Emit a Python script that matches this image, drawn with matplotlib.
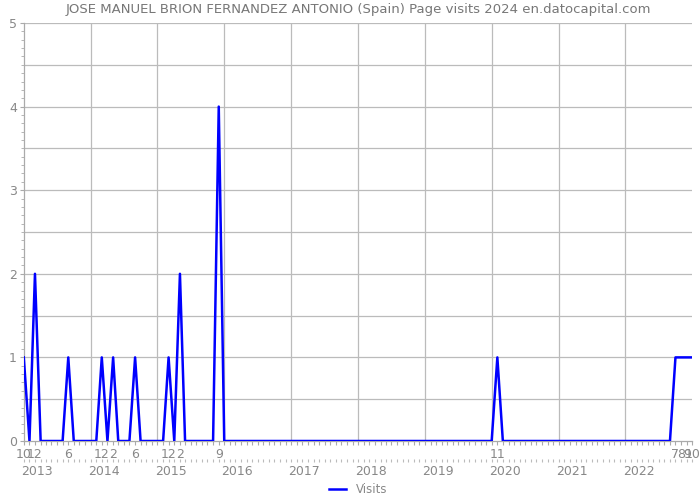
import numpy as np
import pandas as pd
import matplotlib
matplotlib.use("Agg")
import matplotlib.pyplot as plt
import matplotlib.dates as mdates
from matplotlib.ticker import MultipleLocator, FixedLocator

# monthly page visits, Oct 2012 .. Oct 2022
start_month = "2012-10-01"
visits = [1, 0, 2, 0, 0, 0, 0, 0, 1, 0, 0, 0,
          0, 0, 1, 0, 1, 0, 0, 0, 1, 0, 0, 0,
          0, 0, 1, 0, 2, 0, 0, 0, 0, 0, 0, 4,
          0, 0, 0, 0, 0, 0, 0, 0, 0, 0, 0, 0,
          0, 0, 0, 0, 0, 0, 0, 0, 0, 0, 0, 0,
          0, 0, 0, 0, 0, 0, 0, 0, 0, 0, 0, 0,
          0, 0, 0, 0, 0, 0, 0, 0, 0, 0, 0, 0,
          0, 1, 0, 0, 0, 0, 0, 0, 0, 0, 0, 0,
          0, 0, 0, 0, 0, 0, 0, 0, 0, 0, 0, 0,
          0, 0, 0, 0, 0, 0, 0, 0, 0, 1, 1, 1,
          1]
years = [2013, 2014, 2015, 2016, 2017, 2018, 2019, 2020, 2021, 2022]
title = "JOSE MANUEL BRION FERNANDEZ ANTONIO (Spain) Page visits 2024 en.datocapital.com"

months = pd.date_range(start_month, periods=len(visits), freq="MS")
visits = np.array(visits)

txt = "#888888"
grid = "#bbbbbb"

fig = plt.figure(figsize=(7, 5), dpi=100)
ax = fig.add_axes([0.034, 0.118, 0.955, 0.836])

ax.plot(months, visits, color="#0000ff", linewidth=1.8, label="Visits", zorder=3)

ax.set_xlim(months[0], months[-1])
ax.set_ylim(0, 5)

# month labels under the months that had visits
hit = visits > 0
ax.xaxis.set_major_locator(FixedLocator(mdates.date2num(months[hit])))
ax.set_xticklabels([str(m.month) for m in months[hit]])
ax.xaxis.set_minor_locator(FixedLocator(mdates.date2num(months)))
ax.tick_params(axis="x", which="both", length=3, color="#aaaaaa", labelcolor=txt,
               labelsize=9, pad=2, width=0.8)

ax.yaxis.set_major_locator(MultipleLocator(1))
ax.yaxis.set_minor_locator(MultipleLocator(0.1))
ax.tick_params(axis="y", which="major", length=3, color="#aaaaaa", labelcolor=txt,
               labelsize=9, pad=2)
ax.tick_params(axis="y", which="minor", length=2, color="#aaaaaa")

# grid: horizontal every 0.5, vertical every 12 months
for y in np.arange(0.5, 5.01, 0.5):
    ax.axhline(y, color=grid, linewidth=0.9, zorder=1)
for d in months[12::12][:-1]:
    ax.axvline(d, color=grid, linewidth=0.9, zorder=1)

for s in ["top", "right"]:
    ax.spines[s].set_visible(False)
for s in ["left", "bottom"]:
    ax.spines[s].set_color("#aaaaaa")
    ax.spines[s].set_linewidth(0.9)

# year axis below
sec = ax.secondary_xaxis(-0.043)
sec.spines["bottom"].set_visible(False)
sec.xaxis.set_major_locator(FixedLocator(
    [mdates.date2num(pd.Timestamp(f"{y}-01-01")) - 20 for y in years]))
sec.set_xticklabels([str(y) for y in years])
sec.xaxis.set_minor_locator(FixedLocator(mdates.date2num(months)))
sec.tick_params(axis="x", which="major", length=0, labelcolor=txt, labelsize=9, pad=4)
sec.tick_params(axis="x", which="minor", length=2, color="#bbbbbb", width=0.8)

ax.set_title(title, color="#777777", fontsize=9.5, pad=7)

ax.legend(loc="center", bbox_to_anchor=(0.5, -0.117), frameon=False,
          fontsize=8.5, labelcolor=txt, handlelength=1.5)

fig.savefig("out.png", dpi=100)
